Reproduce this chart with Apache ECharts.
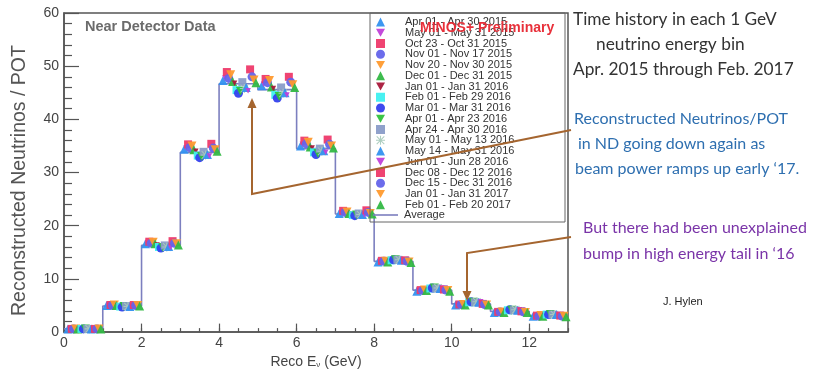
<!DOCTYPE html>
<html><head><meta charset="utf-8">
<script src="https://cdn.jsdelivr.net/npm/echarts@6/dist/echarts.min.js"></script>
<style>html,body{margin:0;padding:0;background:#fff}#c{width:830px;height:374px}</style>
</head><body><div id="c"></div>
<script>
// ---------------- data ----------------
const binStarts = [0,1,2,3,4,5,6,7,8,9,10,11,12];
const binEnd = 13;
const average = [0.6,4.9,16.3,33.8,46.7,45.6,34.5,22.2,13.3,7.9,5.3,3.9,3.1];
const periods = [
  'Apr 01 - Apr 30 2015','May 01 - May 31 2015','Oct 23 - Oct 31 2015','Nov 01 - Nov 17 2015',
  'Nov 20 - Nov 30 2015','Dec 01 - Dec 31 2015','Jan 01 - Jan 31 2016','Feb 01 - Feb 29 2016',
  'Mar 01 - Mar 31 2016','Apr 01 - Apr 23 2016','Apr 24 - Apr 30 2016','May 01 - May 13 2016',
  'May 14 - May 31 2016','Jun 01 - Jun 28 2016','Dec 08 - Dec 12 2016','Dec 15 - Dec 31 2016',
  'Jan 01 - Jan 31 2017','Feb 01 - Feb 20 2017'
];
const apr2015   = [0.6,5.0,16.6,34.4,47.3,46.3,35.0,22.3,13.2,7.7,5.1,3.7,3.0];
const may2015   = [0.6,5.0,16.7,34.6,47.8,46.6,35.3,22.4,13.2,7.8,5.1,3.8,3.0];
const oct2015   = [0.6,5.1,17.0,35.3,48.9,47.6,36.0,22.8,13.4,7.9,5.2,3.8,3.1];
const nov2015a  = [0.6,5.0,16.7,34.7,47.7,46.9,35.4,22.5,13.3,7.8,5.2,3.8,3.0];
const nov2015b  = [0.6,5.1,16.9,35.0,48.4,47.3,35.7,22.6,13.3,7.9,5.2,3.8,3.1];
const dec2015   = [0.6,5.0,16.6,34.3,47.1,46.1,34.8,22.3,13.2,7.8,5.1,3.7,3.0];
const jan2016   = [0.6,4.9,16.4,34.0,46.8,45.8,34.6,22.2,13.3,7.9,5.3,3.9,3.1];
const feb2016   = [0.6,4.8,16.0,33.2,45.5,44.6,33.8,22.0,13.5,8.2,5.6,4.1,3.3];
const mar2016   = [0.6,4.7,15.8,32.8,44.9,44.0,33.4,21.9,13.6,8.3,5.7,4.2,3.3];
const apr2016a  = [0.6,4.8,15.9,33.0,45.3,44.3,33.6,22.0,13.6,8.3,5.6,4.1,3.3];
const apr2016b  = [0.6,4.9,16.3,33.9,47.0,46.0,34.5,22.3,13.6,8.2,5.6,4.1,3.3];
const may2016a  = [0.6,4.8,16.0,33.3,45.8,44.9,34.0,22.1,13.6,8.3,5.7,4.2,3.3];
const may2016b  = [0.6,4.8,16.1,33.4,46.0,45.0,34.1,22.1,13.5,8.2,5.6,4.1,3.3];
const jun2016   = [0.6,4.8,15.9,33.1,45.4,44.6,33.8,22.0,13.6,8.3,5.7,4.2,3.3];
const dec2016a  = [0.6,5.1,17.1,35.4,49.4,48.0,36.2,22.9,13.5,8.0,5.3,3.9,3.1];
const dec2016b  = [0.6,5.0,16.7,34.6,48.0,47.0,35.3,22.5,13.3,7.9,5.2,3.8,3.0];
const jan2017   = [0.6,5.0,16.6,34.3,47.4,46.5,35.0,22.3,13.2,7.8,5.1,3.7,3.0];
const feb2017   = [0.6,4.9,16.4,34.0,46.9,46.0,34.6,22.2,13.1,7.7,5.1,3.7,2.9];
const seriesValues = [apr2015,may2015,oct2015,nov2015a,nov2015b,dec2015,jan2016,feb2016,mar2016,
  apr2016a,apr2016b,may2016a,may2016b,jun2016,dec2016a,dec2016b,jan2017,feb2017];
const xTickLabels = [0,2,4,6,8,10,12];
const yTickLabels = [0,10,20,30,40,50,60];

// ---------------- styles ----------------
const TRI_DOWN = 'path://M0,0 L10,0 L5,9 Z';
const STAR = 'path://M0,4.4 L10,4.4 L10,5.6 L0,5.6 Z M4.4,0 L5.6,0 L5.6,10 L4.4,10 Z M1.2,0.4 L9.6,8.8 L8.8,9.6 L0.4,1.2 Z M8.8,0.4 L9.6,1.2 L1.2,9.6 L0.4,8.8 Z';
const styles = [
  {s:'triangle', c:'#3391f0', z:9},
  {s:TRI_DOWN,  c:'#c040d8', z:5.5},
  {s:'rect',    c:'#ee3a6a', z:8},
  {s:'circle',  c:'#6464ea', z:9},
  {s:TRI_DOWN,  c:'#ff9a2e', z:9},
  {s:'triangle',c:'#33b844', z:9},
  {s:TRI_DOWN,  c:'#a8183a', z:5.5},
  {s:'rect',    c:'#3ef0f0', z:8},
  {s:'circle',  c:'#3440ee', z:9},
  {s:TRI_DOWN,  c:'#30c23c', z:9},
  {s:'rect',    c:'#8a9cc8', z:8},
  {s:STAR,      c:'#a9cbbd', z:9},
  {s:'triangle',c:'#3391f0', z:9},
  {s:TRI_DOWN,  c:'#c040d8', z:5.5},
  {s:'rect',    c:'#ee3a6a', z:8},
  {s:'circle',  c:'#6464ea', z:9},
  {s:TRI_DOWN,  c:'#ff9a2e', z:9},
  {s:'triangle',c:'#33b844', z:9}
];
const avgColor = '#7c7fbf';

const series = [];
seriesValues.forEach((vals, i) => {
  const st = styles[i];
  series.push({
    name: periods[i], type: 'scatter', xAxisIndex: 0, yAxisIndex: 0,
    symbol: st.s, symbolSize: st.z, itemStyle: {color: st.c, opacity: 0.95},
    data: vals.map((v, b) => [binStarts[b] + 0.1 + i * 0.05, v]),
    z: 3
  });
});
const stepData = average.map((v, b) => [binStarts[b], v]);
stepData.push([binEnd, average[average.length - 1]]);
series.push({
  name: 'Average', type: 'line', step: 'end', symbol: 'none', xAxisIndex: 0, yAxisIndex: 0,
  lineStyle: {color: avgColor, width: 1.6}, itemStyle: {color: avgColor},
  data: stepData, z: 2
});

const axisColor = '#555';
const labelStyle = {color: '#444', fontFamily: 'Liberation Sans, Arial', fontSize: 14};
const brown = '#a5652f';
const legendText = {color: '#333', fontFamily: 'Liberation Sans, Arial', fontSize: 11, lineHeight: 11};
const T = (text, x, y, fill, font) => ({type: 'text', x: x, y: y, z: 100,
  style: {text: text, fill: fill, font: font, textVerticalAlign: 'middle', verticalAlign: 'middle'}});

const option = {
  animation: false,
  backgroundColor: '#fff',
  grid: {left: 64, right: 262, top: 13, bottom: 29, show: true, borderColor: axisColor, borderWidth: 1.5, backgroundColor: 'transparent'},
  xAxis: [{
    type: 'value', min: 0, max: binEnd, interval: 2, position: 'bottom',
    axisLine: {show: true, onZero: false, lineStyle: {color: axisColor, width: 1.5}},
    axisTick: {show: true, inside: true, length: 8.5, lineStyle: {color: axisColor, width: 1.2}},
    minorTick: {show: false},
    splitLine: {show: false},
    axisLabel: Object.assign({margin: 4, showMaxLabel: false,
      formatter: v => xTickLabels.indexOf(v) >= 0 ? String(v) : ''}, labelStyle),
    name: 'Reco E{sub|ν} (GeV)', nameLocation: 'middle', nameGap: 21,
    nameTextStyle: {color: '#444', fontFamily: 'Liberation Sans, Arial', fontSize: 14,
      rich: {sub: {fontSize: 8, verticalAlign: 'bottom', color: '#444', padding: [6,0,0,0]}}}
  }, {
    type: 'value', min: 0, max: binEnd, interval: 0.5, position: 'bottom',
    axisLine: {show: false}, axisLabel: {show: false}, splitLine: {show: false},
    axisTick: {show: true, inside: true, length: 4, lineStyle: {color: axisColor, width: 1.2}}
  }],
  yAxis: [{
    type: 'value', min: 0, max: 60, interval: 10,
    axisLine: {show: true, lineStyle: {color: axisColor, width: 1.5}},
    axisTick: {show: true, inside: true, length: 15, lineStyle: {color: axisColor, width: 1.2}},
    minorTick: {show: true, splitNumber: 5, length: 8, lineStyle: {color: axisColor, width: 1.2}},
    splitLine: {show: false},
    axisLabel: Object.assign({margin: 5, formatter: v => yTickLabels.indexOf(v) >= 0 ? String(v) : ''}, labelStyle),
    name: 'Reconstructed Neutrinos / POT', nameLocation: 'middle', nameGap: 34,
    nameTextStyle: {color: '#555', fontFamily: 'Liberation Sans, Arial', fontSize: 19.5, padding: [0, 16, 0, 0]}
  }],
  legend: [{
    orient: 'vertical', left: 371, top: 13, padding: [3.5, 0, 0, 5],
    itemWidth: 9, itemHeight: 9, itemGap: -0.25,
    data: periods,
    textStyle: Object.assign({padding: [0,0,0,15]}, legendText),
    z: 10
  }, {
    orient: 'vertical', left: 373, top: 209.5, padding: 0,
    itemWidth: 25, itemHeight: 1.6, itemGap: 0,
    data: [{name: 'Average', icon: 'rect'}],
    textStyle: Object.assign({padding: [0,0,0,1]}, legendText),
    z: 10
  }],
  series: series,
  graphic: [
    {type: 'rect', shape: {x: 370, y: 13, width: 195, height: 209}, style: {fill: 'none', stroke: '#666', lineWidth: 1}, z: 9, silent: true},
    T('Near Detector Data', 85, 27, '#6b6b6b', 'bold 14.5px "Liberation Sans", Arial'),
    T('MINOS+ Preliminary', 420, 28, '#e8303a', 'bold 14px "Liberation Sans", Arial'),
    T('Time history in each 1 GeV', 573, 19, '#333', '17.3px Lato'),
    T('neutrino energy bin', 596, 44, '#333', '17.3px Lato'),
    T('Apr. 2015 through Feb. 2017', 573, 69, '#333', '17.3px Lato'),
    T('Reconstructed Neutrinos/POT', 574, 119, '#2e6fb0', '16px Lato'),
    T('in ND going down again as', 578, 144, '#2e6fb0', '16px Lato'),
    T('beam power ramps up early \u201817.', 575, 169, '#2e6fb0', '16px Lato'),
    T('But there had been unexplained', 583, 228, '#7a34a8', '16px Lato'),
    T('bump in high energy tail in \u201816', 583, 254, '#7a34a8', '16px Lato'),
    T('J. Hylen', 663, 302, '#222', '11px "Liberation Sans", Arial'),
    {type: 'polyline', z: 50, shape: {points: [[571, 130], [252, 194], [252, 106]]}, style: {stroke: brown, lineWidth: 2, fill: null}},
    {type: 'polygon', z: 50, shape: {points: [[247.5, 108], [256.5, 108], [252, 98]]}, style: {fill: brown}},
    {type: 'polyline', z: 50, shape: {points: [[571, 237], [467, 253], [467, 293]]}, style: {stroke: brown, lineWidth: 2, fill: null}},
    {type: 'polygon', z: 50, shape: {points: [[462.5, 291], [471.5, 291], [467, 301]]}, style: {fill: brown}}
  ]
};
const chart = echarts.init(document.getElementById('c'), null, {renderer: 'canvas'});
chart.setOption(option);
</script>
</body></html>
